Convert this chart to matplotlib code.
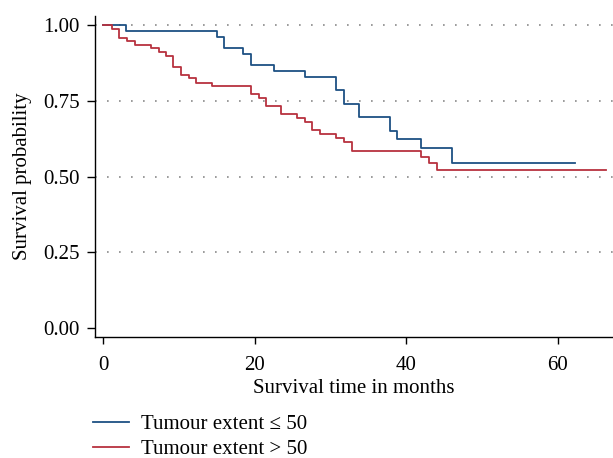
import matplotlib.pyplot as plt

# Kaplan-Meier step curves (time in months, survival)
time_low = [0, 3, 15, 16, 18.5, 19.5, 22.5, 26.6, 30.7, 31.8, 33.8, 37.8, 38.8, 41.9, 46.0, 62.3]
surv_low = [1.00, 0.980, 0.961, 0.923, 0.904, 0.868, 0.848, 0.829, 0.785, 0.741, 0.697, 0.650,
            0.624, 0.593, 0.545, 0.545]

time_high = [0, 1.1, 2.1, 3.1, 4.2, 6.25, 7.3, 8.3, 9.2, 10.25, 11.35, 12.3, 14.4, 19.5, 20.5,
             21.5, 23.5, 25.6, 26.6, 27.6, 28.6, 30.7, 31.8, 32.8, 41.9, 43.0, 44.0, 66.4]
surv_high = [1.00, 0.987, 0.959, 0.948, 0.934, 0.923, 0.912, 0.898, 0.860, 0.834, 0.824, 0.810,
             0.798, 0.771, 0.758, 0.733, 0.706, 0.692, 0.679, 0.653, 0.641, 0.626, 0.613, 0.584,
             0.565, 0.543, 0.521, 0.521]

labels = ["Tumour extent \u2264 50", "Tumour extent > 50"]
colors = ["#1e5184", "#b8323f"]
yticks = [0.00, 0.25, 0.50, 0.75, 1.00]
xticks = [0, 20, 40, 60]

plt.rcParams['font.family'] = ['Liberation Serif', 'DejaVu Serif']

fig = plt.figure(figsize=(6.13, 4.58), dpi=100)
ax = fig.add_axes([94.7 / 613, 1 - 336.7 / 458, (613 - 94.7) / 613, (336.7 - 16) / 458])

for yv in yticks[1:]:
    ax.axhline(yv, color="#8a8a8a", linestyle=(0, (1, 6.2)), linewidth=1.2, zorder=1)

ax.step(time_low, surv_low, where="post", color=colors[0], linewidth=1.3, label=labels[0], zorder=3)
ax.step(time_high, surv_high, where="post", color=colors[1], linewidth=1.3, label=labels[1], zorder=3)

ax.set_xlim(-1.13, 67.3)
ax.set_ylim(-0.029, 1.03)
ax.set_xticks(xticks)
ax.set_yticks(yticks)
ax.set_yticklabels([f"{v:.2f}" for v in yticks])
ax.tick_params(axis="both", labelsize=15, width=1, color="black")
ax.tick_params(axis="x", length=5, pad=9)
ax.tick_params(axis="y", length=6, pad=5)
for s in ["top", "right"]:
    ax.spines[s].set_visible(False)
for s in ["left", "bottom"]:
    ax.spines[s].set_linewidth(1)

ax.set_xlabel("Survival time in months", fontsize=15, labelpad=3)
ax.set_ylabel("Survival probability", fontsize=15, labelpad=8)

ax.legend(loc="upper left", bbox_to_anchor=(-0.003, -0.242), frameon=False, fontsize=15,
          handlelength=1.7, handletextpad=0.58, labelspacing=0.26, borderpad=0, borderaxespad=0)

fig.savefig("out.png", dpi=100)
